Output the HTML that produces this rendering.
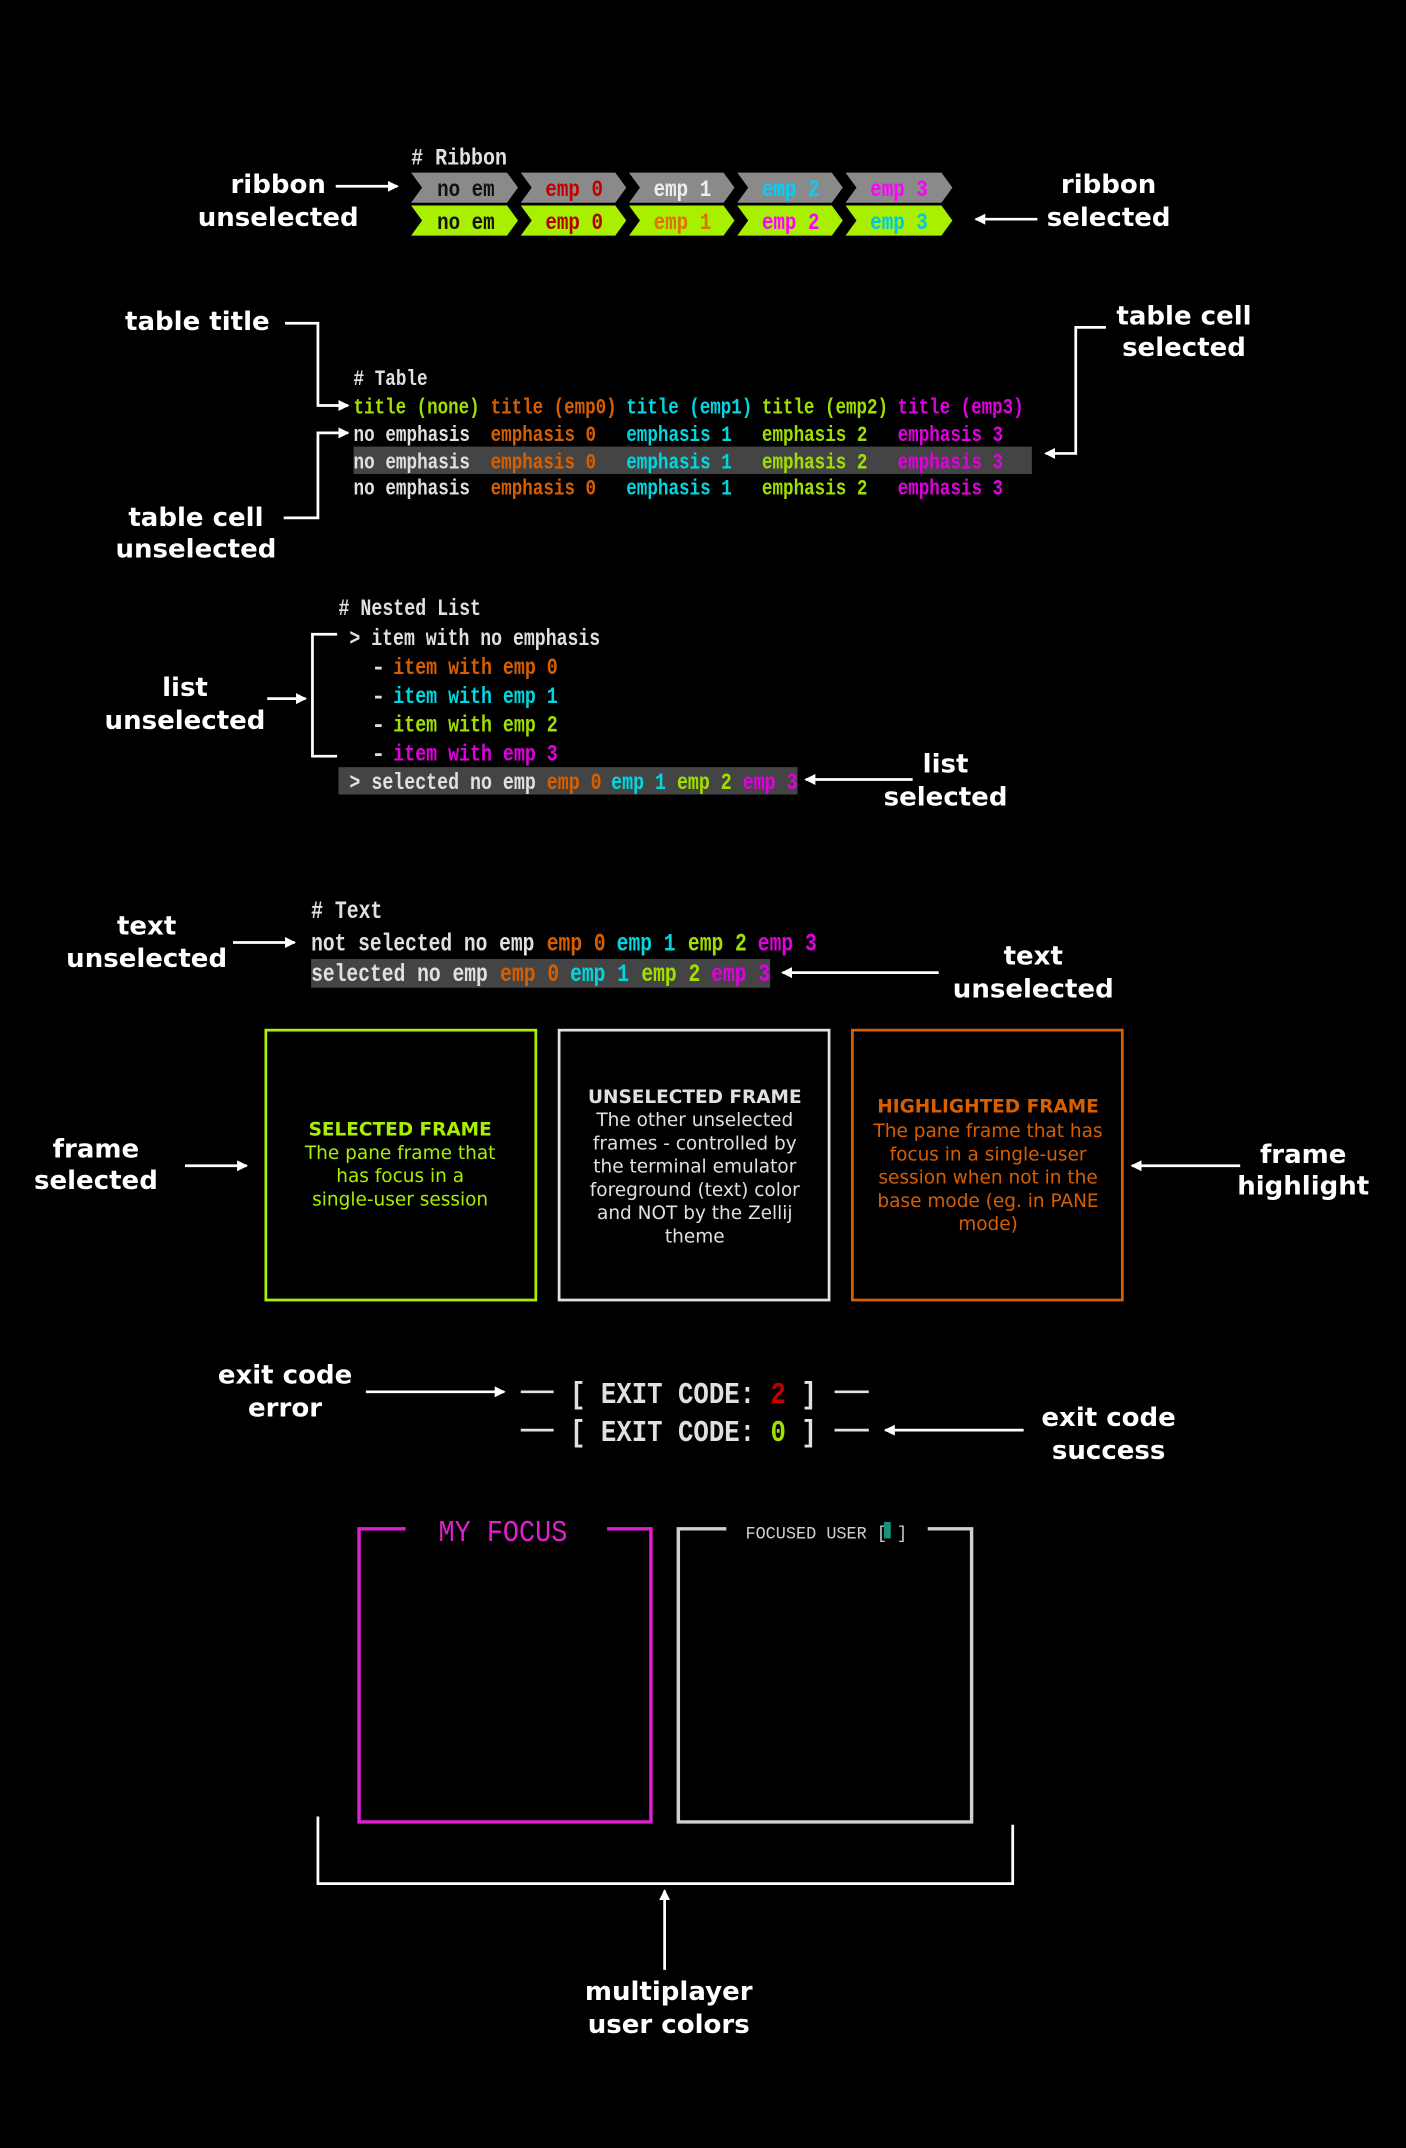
<!DOCTYPE html>
<html><head><meta charset="utf-8"><style>
html,body{margin:0;padding:0;background:#000;}
svg{display:block;}
.l{font-family:"DejaVu Sans","Liberation Sans",sans-serif;font-weight:bold;font-size:19px;fill:#fff;text-anchor:middle;}
.m{font-family:"Liberation Mono","DejaVu Sans Mono",monospace;font-weight:bold;}
.f{font-family:"DejaVu Sans","Liberation Sans",sans-serif;font-size:13.5px;text-anchor:middle;}
</style></head><body>
<svg width="1406" height="2148" viewBox="0 0 1026 1568" preserveAspectRatio="none" xmlns="http://www.w3.org/2000/svg">
<defs><marker id="a" markerWidth="8" markerHeight="8" refX="7" refY="4" orient="auto" markerUnits="userSpaceOnUse"><path d="M0,0 L8,4 L0,8 z" fill="#fff"/></marker></defs>
<rect width="1026" height="1568" fill="#000"/>
<g stroke="#fff" stroke-width="2" fill="none">
<line x1="245" y1="136" x2="290" y2="136" marker-end="url(#a)"/>
<line x1="757" y1="160" x2="712" y2="160" marker-end="url(#a)"/>
<polyline points="208,236 232,236 232,296 254,296" marker-end="url(#a)"/>
<polyline points="807,239 785,239 785,331 763,331" marker-end="url(#a)"/>
<polyline points="207,378 232,378 232,316 254,316" marker-end="url(#a)"/>
<polyline points="246,463 228,463 228,552 246,552"/>
<line x1="195" y1="510" x2="223" y2="510" marker-end="url(#a)"/>
<line x1="666" y1="569" x2="588" y2="569" marker-end="url(#a)"/>
<line x1="170" y1="688" x2="215" y2="688" marker-end="url(#a)"/>
<line x1="685" y1="710" x2="571" y2="710" marker-end="url(#a)"/>
<line x1="135" y1="851" x2="180" y2="851" marker-end="url(#a)"/>
<line x1="905" y1="851" x2="826" y2="851" marker-end="url(#a)"/>
<line x1="267" y1="1016" x2="368" y2="1016" marker-end="url(#a)"/>
<line x1="747" y1="1044" x2="646" y2="1044" marker-end="url(#a)"/>
<polyline points="232,1326 232,1375 739,1375 739,1332"/>
<line x1="485" y1="1438" x2="485" y2="1380" marker-end="url(#a)"/>
</g>
<!-- labels -->
<text class="l" x="203" y="141">ribbon</text><text class="l" x="203" y="165">unselected</text>
<text class="l" x="809" y="141">ribbon</text><text class="l" x="809" y="165">selected</text>
<text class="l" x="144" y="241">table title</text>
<text class="l" x="864" y="237">table cell</text><text class="l" x="864" y="260">selected</text>
<text class="l" x="143" y="384">table cell</text><text class="l" x="143" y="407">unselected</text>
<text class="l" x="135" y="508">list</text><text class="l" x="135" y="532">unselected</text>
<text class="l" x="690" y="564">list</text><text class="l" x="690" y="588">selected</text>
<text class="l" x="107" y="682">text</text><text class="l" x="107" y="706">unselected</text>
<text class="l" x="754" y="704">text</text><text class="l" x="754" y="728">unselected</text>
<text class="l" x="70" y="845">frame</text><text class="l" x="70" y="868">selected</text>
<text class="l" x="951" y="849">frame</text><text class="l" x="951" y="872">highlight</text>
<text class="l" x="208" y="1010">exit code</text><text class="l" x="208" y="1034">error</text>
<text class="l" x="809" y="1041">exit code</text><text class="l" x="809" y="1065">success</text>
<text class="l" x="488" y="1460">multiplayer</text><text class="l" x="488" y="1484">user colors</text>

<!-- Ribbon -->
<g class="m" font-size="17">
<text x="300" y="120" fill="#e0e0e0" textLength="70" lengthAdjust="spacingAndGlyphs"># Ribbon</text>
<g fill="#8a8a8a">
<polygon points="300,126 370,126 378,137 370,148 300,148 308,137"/>
<polygon points="380,126 449,126 457,137 449,148 380,148 388,137"/>
<polygon points="459,126 528,126 536,137 528,148 459,148 467,137"/>
<polygon points="538,126 607,126 615,137 607,148 538,148 546,137"/>
<polygon points="617,126 687,126 695,137 687,148 617,148 625,137"/>
</g>
<g fill="#a8f000">
<polygon points="300,150 370,150 378,161 370,172 300,172 308,161"/>
<polygon points="380,150 449,150 457,161 449,172 380,172 388,161"/>
<polygon points="459,150 528,150 536,161 528,172 459,172 467,161"/>
<polygon points="538,150 607,150 615,161 607,172 538,172 546,161"/>
<polygon points="617,150 687,150 695,161 687,172 617,172 625,161"/>
</g>
<g text-anchor="middle">
<text x="340" y="143" fill="#111" textLength="42" lengthAdjust="spacingAndGlyphs">no em</text>
<text x="419" y="143" fill="#c00000" textLength="42" lengthAdjust="spacingAndGlyphs">emp 0</text>
<text x="498" y="143" fill="#eeeeee" textLength="42" lengthAdjust="spacingAndGlyphs">emp 1</text>
<text x="577" y="143" fill="#00d0ff" textLength="42" lengthAdjust="spacingAndGlyphs">emp 2</text>
<text x="656" y="143" fill="#ff00ff" textLength="42" lengthAdjust="spacingAndGlyphs">emp 3</text>
<text x="340" y="167" fill="#111" textLength="42" lengthAdjust="spacingAndGlyphs">no em</text>
<text x="419" y="167" fill="#b00000" textLength="42" lengthAdjust="spacingAndGlyphs">emp 0</text>
<text x="498" y="167" fill="#e07000" textLength="42" lengthAdjust="spacingAndGlyphs">emp 1</text>
<text x="577" y="167" fill="#ff00ff" textLength="42" lengthAdjust="spacingAndGlyphs">emp 2</text>
<text x="656" y="167" fill="#00c8e0" textLength="42" lengthAdjust="spacingAndGlyphs">emp 3</text>
</g>
</g>

<!-- Table -->
<rect x="258" y="326" width="495" height="20" fill="#444"/>
<g class="m" font-size="16">
<text x="258" y="281" fill="#e0e0e0" textLength="54" lengthAdjust="spacingAndGlyphs"># Table</text>
<text x="258" y="302" fill="#a0e000" textLength="92" lengthAdjust="spacingAndGlyphs">title (none)</text>
<text x="358" y="302" fill="#d75f00" textLength="92" lengthAdjust="spacingAndGlyphs">title (emp0)</text>
<text x="457" y="302" fill="#00d7e0" textLength="92" lengthAdjust="spacingAndGlyphs">title (emp1)</text>
<text x="556" y="302" fill="#a0e000" textLength="92" lengthAdjust="spacingAndGlyphs">title (emp2)</text>
<text x="655" y="302" fill="#e000e0" textLength="92" lengthAdjust="spacingAndGlyphs">title (emp3)</text>
<g>
<text x="258" y="322" fill="#e0e0e0" textLength="85" lengthAdjust="spacingAndGlyphs">no emphasis</text>
<text x="358" y="322" fill="#d75f00" textLength="77" lengthAdjust="spacingAndGlyphs">emphasis 0</text>
<text x="457" y="322" fill="#00d7e0" textLength="77" lengthAdjust="spacingAndGlyphs">emphasis 1</text>
<text x="556" y="322" fill="#a0e000" textLength="77" lengthAdjust="spacingAndGlyphs">emphasis 2</text>
<text x="655" y="322" fill="#e000e0" textLength="77" lengthAdjust="spacingAndGlyphs">emphasis 3</text>
<text x="258" y="342" fill="#e0e0e0" textLength="85" lengthAdjust="spacingAndGlyphs">no emphasis</text>
<text x="358" y="342" fill="#d75f00" textLength="77" lengthAdjust="spacingAndGlyphs">emphasis 0</text>
<text x="457" y="342" fill="#00d7e0" textLength="77" lengthAdjust="spacingAndGlyphs">emphasis 1</text>
<text x="556" y="342" fill="#a0e000" textLength="77" lengthAdjust="spacingAndGlyphs">emphasis 2</text>
<text x="655" y="342" fill="#e000e0" textLength="77" lengthAdjust="spacingAndGlyphs">emphasis 3</text>
<text x="258" y="361" fill="#e0e0e0" textLength="85" lengthAdjust="spacingAndGlyphs">no emphasis</text>
<text x="358" y="361" fill="#d75f00" textLength="77" lengthAdjust="spacingAndGlyphs">emphasis 0</text>
<text x="457" y="361" fill="#00d7e0" textLength="77" lengthAdjust="spacingAndGlyphs">emphasis 1</text>
<text x="556" y="361" fill="#a0e000" textLength="77" lengthAdjust="spacingAndGlyphs">emphasis 2</text>
<text x="655" y="361" fill="#e000e0" textLength="77" lengthAdjust="spacingAndGlyphs">emphasis 3</text>
</g>
</g>

<!-- Nested list -->
<rect x="247" y="560" width="335" height="20" fill="#444"/>
<g class="m" font-size="17">
<text x="247" y="449" fill="#e0e0e0" textLength="104" lengthAdjust="spacingAndGlyphs"># Nested List</text>
<text x="255" y="471" fill="#e0e0e0" textLength="183" lengthAdjust="spacingAndGlyphs">&gt; item with no emphasis</text>
<text x="271" y="492" fill="#e0e0e0">-</text><text x="287" y="492" fill="#d75f00" textLength="120" lengthAdjust="spacingAndGlyphs">item with emp 0</text>
<text x="271" y="513" fill="#e0e0e0">-</text><text x="287" y="513" fill="#00d7e0" textLength="120" lengthAdjust="spacingAndGlyphs">item with emp 1</text>
<text x="271" y="534" fill="#e0e0e0">-</text><text x="287" y="534" fill="#a0e000" textLength="120" lengthAdjust="spacingAndGlyphs">item with emp 2</text>
<text x="271" y="555" fill="#e0e0e0">-</text><text x="287" y="555" fill="#e000e0" textLength="120" lengthAdjust="spacingAndGlyphs">item with emp 3</text>
<text x="255" y="576" fill="#e0e0e0" textLength="136" lengthAdjust="spacingAndGlyphs">&gt; selected no emp</text>
<text x="399" y="576" fill="#d75f00" textLength="40" lengthAdjust="spacingAndGlyphs">emp 0</text>
<text x="446" y="576" fill="#00d7e0" textLength="40" lengthAdjust="spacingAndGlyphs">emp 1</text>
<text x="494" y="576" fill="#a0e000" textLength="40" lengthAdjust="spacingAndGlyphs">emp 2</text>
<text x="542" y="576" fill="#e000e0" textLength="40" lengthAdjust="spacingAndGlyphs">emp 3</text>
</g>

<!-- Text -->
<rect x="227" y="700" width="335" height="21" fill="#444"/>
<g class="m" font-size="18">
<text x="227" y="670" fill="#e0e0e0" textLength="52" lengthAdjust="spacingAndGlyphs"># Text</text>
<text x="227" y="694" fill="#e0e0e0" textLength="163" lengthAdjust="spacingAndGlyphs">not selected no emp</text>
<text x="399" y="694" fill="#d75f00" textLength="43" lengthAdjust="spacingAndGlyphs">emp 0</text>
<text x="450" y="694" fill="#00d7e0" textLength="43" lengthAdjust="spacingAndGlyphs">emp 1</text>
<text x="502" y="694" fill="#a0e000" textLength="43" lengthAdjust="spacingAndGlyphs">emp 2</text>
<text x="553" y="694" fill="#e000e0" textLength="43" lengthAdjust="spacingAndGlyphs">emp 3</text>
<text x="227" y="716" fill="#e0e0e0" textLength="129" lengthAdjust="spacingAndGlyphs">selected no emp</text>
<text x="365" y="716" fill="#d75f00" textLength="43" lengthAdjust="spacingAndGlyphs">emp 0</text>
<text x="416" y="716" fill="#00d7e0" textLength="43" lengthAdjust="spacingAndGlyphs">emp 1</text>
<text x="468" y="716" fill="#a0e000" textLength="43" lengthAdjust="spacingAndGlyphs">emp 2</text>
<text x="519" y="716" fill="#e000e0" textLength="43" lengthAdjust="spacingAndGlyphs">emp 3</text>
</g>

<!-- Frames -->
<rect x="194" y="752" width="197" height="197" fill="none" stroke="#a8f000" stroke-width="2"/>
<rect x="408" y="752" width="197" height="197" fill="none" stroke="#e0e0e0" stroke-width="2"/>
<rect x="622" y="752" width="197" height="197" fill="none" stroke="#d75f00" stroke-width="2"/>
<g class="f" fill="#a8f000">
<text x="292" y="829" font-weight="bold">SELECTED FRAME</text>
<text x="292" y="846">The pane frame that</text>
<text x="292" y="863">has focus in a</text>
<text x="292" y="880">single-user session</text>
</g>
<g class="f" fill="#e0e0e0">
<text x="507" y="805" font-weight="bold">UNSELECTED FRAME</text>
<text x="507" y="822">The other unselected</text>
<text x="507" y="839">frames - controlled by</text>
<text x="507" y="856">the terminal emulator</text>
<text x="507" y="873">foreground (text) color</text>
<text x="507" y="890">and NOT by the Zellij</text>
<text x="507" y="907">theme</text>
</g>
<g class="f" fill="#d75f00">
<text x="721" y="812" font-weight="bold">HIGHLIGHTED FRAME</text>
<text x="721" y="830">The pane frame that has</text>
<text x="721" y="847">focus in a single-user</text>
<text x="721" y="864">session when not in the</text>
<text x="721" y="881">base mode (eg. in PANE</text>
<text x="721" y="898">mode)</text>
</g>

<!-- Exit codes -->
<g stroke="#e0e0e0" stroke-width="2">
<line x1="380" y1="1016" x2="404" y2="1016"/><line x1="609" y1="1016" x2="634" y2="1016"/>
<line x1="380" y1="1044" x2="404" y2="1044"/><line x1="609" y1="1044" x2="634" y2="1044"/>
</g>
<g class="m" font-size="22" fill="#e0e0e0">
<text x="416" y="1024" textLength="180" lengthAdjust="spacingAndGlyphs">[ EXIT CODE: <tspan fill="#c00000">2</tspan> ]</text>
<text x="416" y="1052" textLength="180" lengthAdjust="spacingAndGlyphs">[ EXIT CODE: <tspan fill="#a0e000">0</tspan> ]</text>
</g>

<!-- Multiplayer -->
<polyline points="296,1116 262,1116 262,1330 475,1330 475,1116 443,1116" fill="none" stroke="#e020d0" stroke-width="2.5"/>
<polyline points="530,1116 495,1116 495,1330 709,1330 709,1116 677,1116" fill="none" stroke="#d0d0d0" stroke-width="2.5"/>
<text x="320" y="1125" font-family="Liberation Mono,monospace" font-size="22" fill="#e020d0" textLength="94" lengthAdjust="spacingAndGlyphs">MY FOCUS</text>
<text x="544" y="1123" font-family="Liberation Mono,monospace" font-size="13" fill="#d0d0d0" textLength="118" lengthAdjust="spacingAndGlyphs">FOCUSED USER [  ]</text>
<rect x="645" y="1111" width="5" height="12" fill="#1a9080"/>
</svg>
</body></html>
